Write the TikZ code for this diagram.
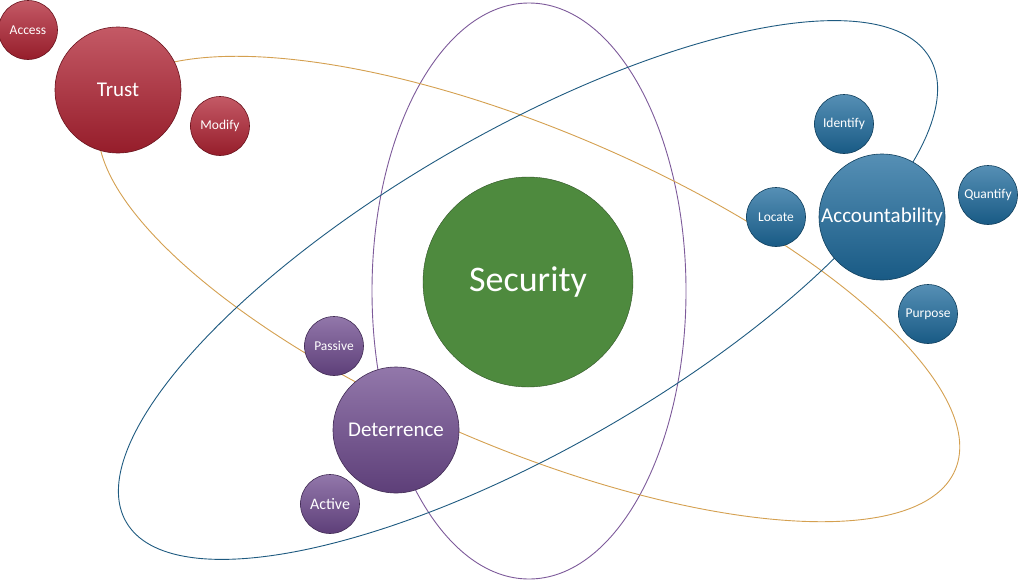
\documentclass[tikz,border=0pt]{standalone}
\usepackage{fontspec}
\setmainfont{Carlito}
\begin{document}
\begin{tikzpicture}[x=1pt,y=-1pt,
  ball/.style={circle,draw=#1!60!black,line width=0.6pt,shading=axis,top color=#1!75!white,bottom color=#1!85!black,text=white,inner sep=0pt,align=center},
  big/.style={minimum size=126pt,font=\fontsize{21}{23}\selectfont},
  small/.style={minimum size=59pt,font=\fontsize{13.5}{15}\selectfont},
  orb/.style={line width=0.9pt}]
\definecolor{tred}{HTML}{B02232}
\definecolor{tblue}{HTML}{1D6A9C}
\definecolor{tpurple}{HTML}{6E4A8E}
\definecolor{tgreen}{HTML}{4E8A3E}
\definecolor{orbO}{HTML}{D4A050}
\definecolor{orbB}{HTML}{1E5A80}
\definecolor{orbP}{HTML}{7D5A9A}
\useasboundingbox (0,0) rectangle (1024,581);
\draw[orb,orbP] (529,291) ellipse [x radius=157,y radius=288];
\draw[orb,orbO,rotate around={-23:(529,289)}] (529,289) ellipse [x radius=463,y radius=159];
\draw[orb,orbB,rotate around={30:(528,290)}] (528,290) ellipse [x radius=464,y radius=158];
\node[circle,draw=tgreen!60!black,fill=tgreen,text=white,minimum size=210pt,font=\fontsize{36}{38}\selectfont] (sec) at (528,282) {Security};
\node[ball=tred,big] (trust) at (118,90) {Trust};
\node[ball=tred,small] (access) at (28,30) {Access};
\node[ball=tred,small] (modify) at (220,126) {Modify};
\node[ball=tblue,big] (acc) at (882,217) {Accountability};
\node[ball=tblue,small] (identify) at (844,124) {Identify};
\node[ball=tblue,small] (quantify) at (988,195) {Quantify};
\node[ball=tblue,small] (locate) at (776,217) {Locate};
\node[ball=tblue,small] (purpose) at (928,314) {Purpose};
\node[ball=tpurple,big] (det) at (396,430) {Deterrence};
\node[ball=tpurple,small] (passive) at (334,346) {Passive};
\node[ball=tpurple,small,font=\fontsize{16}{18}\selectfont] (active) at (330,504) {Active};
\end{tikzpicture}
\end{document}
